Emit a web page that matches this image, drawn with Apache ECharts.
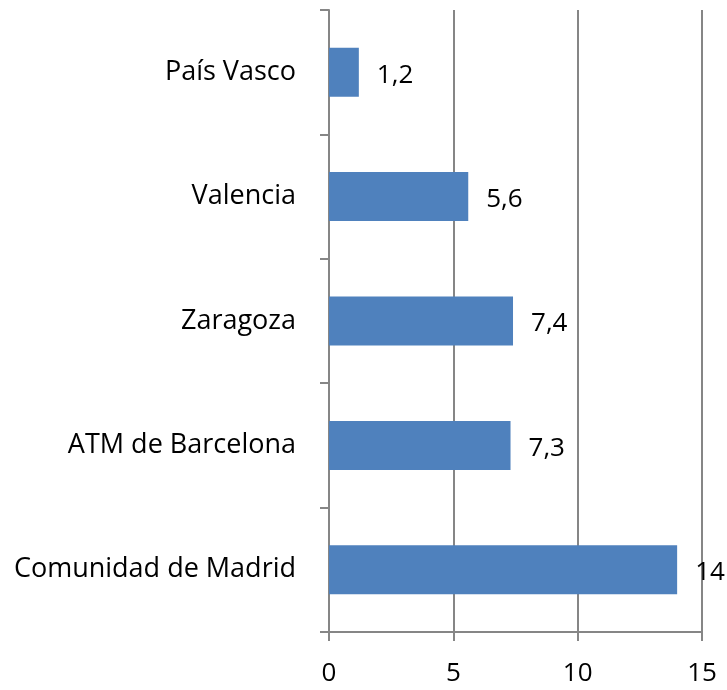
<!DOCTYPE html>
<html>
<head>
<meta charset="utf-8">
<script src="https://cdn.jsdelivr.net/npm/echarts@6/dist/echarts.min.js"></script>
<style>
  html, body { margin: 0; padding: 0; background: #fff; }
  #chart { width: 727px; height: 690px; }
</style>
</head>
<body>
<div id="chart"></div>
<script>
var regiones = ['Comunidad de Madrid', 'ATM de Barcelona', 'Zaragoza', 'Valencia', 'País Vasco'];
var valores = [14, 7.3, 7.4, 5.6, 1.2];
var ejeMin = 0, ejeMax = 15, ejePaso = 5;

var chart = echarts.init(document.getElementById('chart'), null, {renderer: 'canvas'});

var gris = '#868686';
var fuente = 'Open Sans';

chart.setOption({
    animation: false,
    grid: {left: 329, right: 25, top: 10, bottom: 58, containLabel: false},
    xAxis: {
        type: 'value',
        min: ejeMin,
        max: ejeMax,
        interval: ejePaso,
        axisLine: {show: true, lineStyle: {color: gris, width: 2}},
        axisTick: {show: true, length: 9, lineStyle: {color: gris, width: 2}},
        splitLine: {show: true, lineStyle: {color: gris, width: 2}},
        axisLabel: {color: '#000', fontSize: 26, fontFamily: fuente, margin: 29}
    },
    yAxis: {
        type: 'category',
        data: regiones,
        axisLine: {show: true, lineStyle: {color: gris, width: 2}},
        axisTick: {show: true, length: 9, lineStyle: {color: gris, width: 2}},
        axisLabel: {color: '#000', fontSize: 27, fontFamily: fuente, margin: 33, padding: [8, 0, 0, 0]}
    },
    series: [{
        type: 'bar',
        data: valores,
        barWidth: 49,
        itemStyle: {color: '#4F81BD'},
        label: {
            show: true,
            position: 'right',
            distance: 18,
            offset: [0, 3],
            color: '#000',
            fontSize: 26,
            fontFamily: fuente,
            formatter: function (p) { return String(p.value).replace('.', ','); }
        }
    }]
});
</script>
</body>
</html>
